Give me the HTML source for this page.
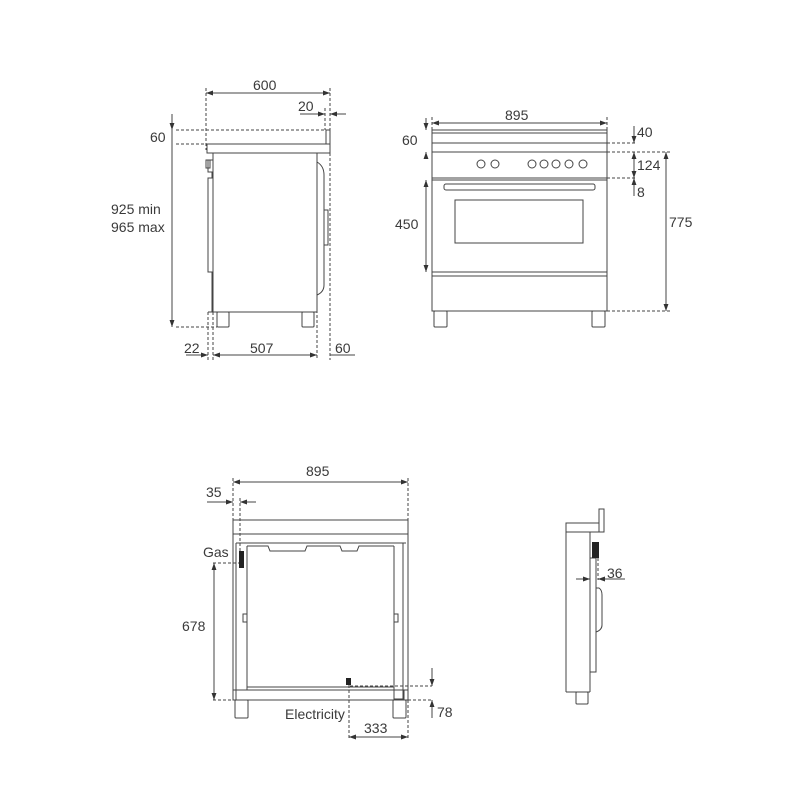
<!DOCTYPE html>
<html><head><meta charset="utf-8"><style>
html,body{margin:0;padding:0;background:#fff}
svg{display:block}
text{font-family:"Liberation Sans",sans-serif;font-size:14px;fill:#3a3a3a}
</style></head><body>
<svg width="800" height="800" viewBox="0 0 800 800" xmlns="http://www.w3.org/2000/svg">
<defs>
<marker id="a" viewBox="0 0 10 10" refX="10" refY="5" markerWidth="7" markerHeight="7" orient="auto-start-reverse"><path d="M0,1.5 L10,5 L0,8.5z" fill="#333"/></marker>
</defs>
<g stroke="#444" stroke-width="1" fill="none">
<g stroke-dasharray="3,2">
<line x1="206" y1="88" x2="206" y2="150"/>
<line x1="330" y1="88" x2="330" y2="360"/>
<line x1="325" y1="108" x2="325" y2="130"/>
<line x1="176" y1="130" x2="327" y2="130"/>
<line x1="176" y1="144" x2="206" y2="144"/>
<line x1="176" y1="327" x2="217" y2="327"/>
<line x1="208" y1="312" x2="208" y2="360"/>
<line x1="213" y1="312" x2="213" y2="360"/>
<line x1="317" y1="300" x2="317" y2="360"/>
</g>
<line x1="206" y1="93" x2="330" y2="93" marker-start="url(#a)" marker-end="url(#a)"/>
<line x1="300" y1="114" x2="325" y2="114" marker-end="url(#a)"/>
<line x1="346" y1="114" x2="330" y2="114" marker-end="url(#a)"/>
<line x1="172" y1="114" x2="172" y2="130" marker-end="url(#a)"/>
<line x1="172" y1="130" x2="172" y2="327" marker-end="url(#a)"/>
<line x1="186" y1="355" x2="208" y2="355" marker-end="url(#a)"/>
<line x1="213" y1="355" x2="317" y2="355" marker-start="url(#a)" marker-end="url(#a)"/>
<line x1="330" y1="355" x2="355" y2="355"/>
<rect x="207" y="144" width="123" height="9"/>
<rect x="326" y="130" width="4" height="14"/>
<rect x="213" y="153" width="104" height="159"/>
<path d="M213,160 H208 V172 H212 V178 H208 V272 H212 V312 H208"/>
<path d="M206,160 H210 V168 H206z"/>
<path d="M317,162 Q324,166 324,175 V285 Q324,292 317,295"/>
<path d="M324,210 H328 V245 H324"/>
<rect x="217" y="312" width="12" height="15" rx="1"/>
<rect x="302" y="312" width="12" height="15" rx="1"/>

<line x1="432" y1="117" x2="432" y2="130" stroke-dasharray="3,2"/>
<line x1="607" y1="117" x2="607" y2="130" stroke-dasharray="3,2"/>
<line x1="432" y1="123" x2="607" y2="123" marker-start="url(#a)" marker-end="url(#a)"/>
<line x1="426" y1="118" x2="426" y2="130" marker-end="url(#a)"/>
<line x1="426" y1="158" x2="426" y2="152" marker-end="url(#a)"/>
<line x1="426" y1="180" x2="426" y2="272" marker-start="url(#a)" marker-end="url(#a)"/>
<rect x="432" y="130" width="175" height="181"/>
<line x1="432" y1="133" x2="607" y2="133"/>
<line x1="432" y1="143" x2="607" y2="143"/>
<line x1="432" y1="152" x2="607" y2="152"/>
<line x1="432" y1="178" x2="607" y2="178"/>
<line x1="432" y1="180" x2="607" y2="180"/>
<rect x="444" y="184" width="151" height="6" rx="2"/>
<rect x="455" y="200" width="128" height="43"/>
<rect x="432" y="272" width="175" height="4"/>
<rect x="434" y="311" width="13" height="16" rx="1"/>
<rect x="592" y="311" width="13" height="16" rx="1"/>
<circle cx="481" cy="164" r="4"/><circle cx="495" cy="164" r="4"/>
<circle cx="532" cy="164" r="4"/><circle cx="544" cy="164" r="4"/><circle cx="556" cy="164" r="4"/><circle cx="569" cy="164" r="4"/><circle cx="583" cy="164" r="4"/>
<g stroke-dasharray="3,2">
<line x1="607" y1="143" x2="636" y2="143"/>
<line x1="607" y1="152" x2="670" y2="152"/>
<line x1="607" y1="178" x2="636" y2="178"/>
<line x1="607" y1="311" x2="670" y2="311"/>
</g>
<line x1="634" y1="126" x2="634" y2="143" marker-end="url(#a)"/>
<line x1="634" y1="152" x2="634" y2="178" marker-start="url(#a)" marker-end="url(#a)"/>
<line x1="634" y1="196" x2="634" y2="178" marker-end="url(#a)"/>
<line x1="666" y1="152" x2="666" y2="311" marker-start="url(#a)" marker-end="url(#a)"/>

<line x1="233" y1="482" x2="408" y2="482" marker-start="url(#a)" marker-end="url(#a)"/>
<g stroke-dasharray="3,2">
<line x1="233" y1="478" x2="233" y2="520"/>
<line x1="408" y1="478" x2="408" y2="520"/>
<line x1="408" y1="700" x2="408" y2="740"/>
<line x1="240" y1="498" x2="240" y2="555"/>
<line x1="213" y1="563" x2="240" y2="563"/>
<line x1="213" y1="700" x2="235" y2="700"/>
<line x1="349" y1="685" x2="349" y2="740"/>
<line x1="350" y1="686" x2="432" y2="686"/>
<line x1="408" y1="700" x2="432" y2="700"/>
</g>
<line x1="207" y1="502" x2="233" y2="502" marker-end="url(#a)"/>
<line x1="256" y1="502" x2="240" y2="502" marker-end="url(#a)"/>
<line x1="214" y1="563" x2="214" y2="700" marker-start="url(#a)" marker-end="url(#a)"/>
<line x1="349" y1="737" x2="408" y2="737" marker-start="url(#a)" marker-end="url(#a)"/>
<line x1="432" y1="668" x2="432" y2="686" marker-end="url(#a)"/>
<line x1="432" y1="718" x2="432" y2="700" marker-end="url(#a)"/>
<rect x="233" y="520" width="175" height="14"/>
<line x1="233" y1="534" x2="233" y2="700"/>
<line x1="408" y1="534" x2="408" y2="700"/>
<line x1="236" y1="543" x2="406" y2="543"/>
<line x1="236" y1="543" x2="236" y2="700"/>
<line x1="247" y1="546" x2="247" y2="690"/>
<line x1="394" y1="546" x2="394" y2="690"/>
<line x1="403" y1="543" x2="403" y2="700"/>
<path d="M247,546 H268 L270,551 H305 L307,546 H340 L342,551 H357 L359,546 H394"/>
<path d="M247,614 H243 V622 H247 M394,614 H398 V622 H394"/>
<path d="M247,687 H394"/>
<rect x="233" y="690" width="175" height="10"/>
<rect x="394" y="690" width="10" height="9"/>
<rect x="235" y="700" width="13" height="18" rx="1"/>
<rect x="393" y="700" width="13" height="18" rx="1"/>

<rect x="566" y="523" width="33" height="9"/>
<rect x="599" y="509" width="5" height="23"/>
<line x1="566" y1="532" x2="566" y2="692"/>
<line x1="590" y1="532" x2="590" y2="692"/>
<line x1="566" y1="692" x2="590" y2="692"/>
<path d="M590,558 H596 V672 H590"/>
<line x1="598" y1="558" x2="598" y2="580" stroke-dasharray="3,2"/>
<path d="M596,588 H599 Q602,590 602,595 V625 Q602,630 596,632"/>
<rect x="576" y="692" width="12" height="12" rx="1"/>
<line x1="576" y1="579" x2="590" y2="579" marker-end="url(#a)"/>
<line x1="625" y1="579" x2="598" y2="579" marker-end="url(#a)"/>
</g>
<rect x="239" y="551" width="5" height="17" fill="#222"/>
<rect x="346" y="678" width="5" height="7" fill="#222"/>
<rect x="592" y="542" width="7" height="16" fill="#222"/>

<text x="253" y="90">600</text>
<text x="298" y="111">20</text>
<text x="150" y="142">60</text>
<text x="111" y="214">925 min</text>
<text x="111" y="232">965 max</text>
<text x="184" y="353">22</text>
<text x="250" y="353">507</text>
<text x="335" y="353">60</text>

<text x="505" y="120">895</text>
<text x="402" y="145">60</text>
<text x="395" y="229">450</text>
<text x="637" y="137">40</text>
<text x="637" y="170">124</text>
<text x="637" y="197">8</text>
<text x="669" y="227">775</text>

<text x="306" y="476">895</text>
<text x="206" y="497">35</text>
<text x="203" y="557">Gas</text>
<text x="182" y="631">678</text>
<text x="285" y="719">Electricity</text>
<text x="364" y="733">333</text>
<text x="437" y="717">78</text>
<text x="607" y="578">36</text>
</svg>
</body></html>
